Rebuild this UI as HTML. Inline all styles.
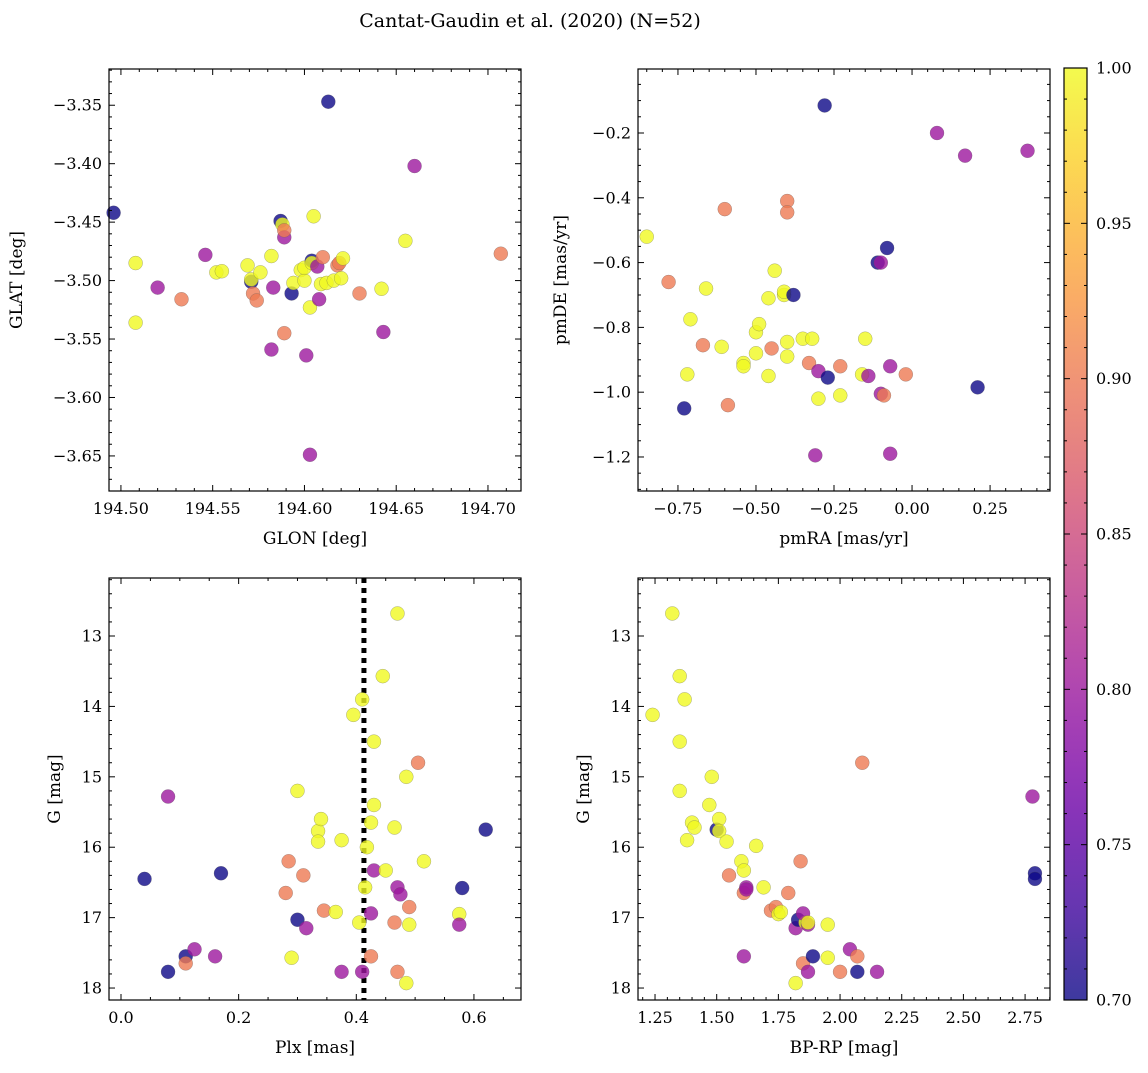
<!DOCTYPE html>
<html><head><meta charset="utf-8">
<style>
body{margin:0;background:#fff;}
svg text{font-family:"DejaVu Serif","Liberation Serif",serif;fill:#000;}
</style></head>
<body>
<svg id="fig" width="1148" height="1068" xmlns="http://www.w3.org/2000/svg">
<rect width="1148" height="1068" fill="#fff"/>
<text x="530" y="27" font-size="19" text-anchor="middle">Cantat-Gaudin et al. (2020) (N=52)</text>
</svg>
<script>
// ---- data ----
const glon=[194.496,194.508,194.508,194.520,194.533,194.546,194.552,194.555,194.569,194.571,194.571,194.572,194.574,194.576,194.582,194.582,194.583,194.587,194.588,194.589,194.589,194.589,194.593,194.594,194.598,194.600,194.600,194.601,194.603,194.603,194.604,194.604,194.605,194.607,194.608,194.609,194.610,194.612,194.613,194.616,194.618,194.619,194.620,194.621,194.630,194.642,194.643,194.655,194.660,194.707];
const glat=[-3.442,-3.485,-3.536,-3.506,-3.516,-3.478,-3.493,-3.492,-3.487,-3.501,-3.499,-3.511,-3.517,-3.493,-3.479,-3.559,-3.506,-3.449,-3.452,-3.463,-3.457,-3.545,-3.511,-3.502,-3.491,-3.500,-3.489,-3.564,-3.523,-3.649,-3.483,-3.485,-3.445,-3.488,-3.516,-3.503,-3.480,-3.502,-3.347,-3.500,-3.487,-3.485,-3.498,-3.481,-3.511,-3.507,-3.544,-3.466,-3.402,-3.477];
const probA=[0.7,1,1,0.8,0.9,0.8,1,1,1,0.7,1,0.9,0.9,1,1,0.8,0.8,0.7,1,0.8,0.9,0.9,0.7,1,1,1,1,0.8,1,0.8,0.7,1,1,0.8,0.8,1,0.9,1,0.7,1,0.9,0.9,1,1,0.9,1,0.8,1,0.8,0.9];
const pmra=[-0.85,-0.78,-0.73,-0.72,-0.71,-0.67,-0.66,-0.61,-0.60,-0.59,-0.54,-0.54,-0.50,-0.50,-0.49,-0.46,-0.46,-0.45,-0.44,-0.41,-0.41,-0.40,-0.40,-0.40,-0.40,-0.38,-0.35,-0.33,-0.32,-0.31,-0.30,-0.30,-0.28,-0.27,-0.23,-0.23,-0.16,-0.15,-0.14,-0.11,-0.10,-0.10,-0.09,-0.08,-0.07,-0.07,-0.02,0.08,0.17,0.21,0.37];
const pmde=[-0.52,-0.66,-1.05,-0.945,-0.775,-0.855,-0.68,-0.86,-0.435,-1.04,-0.91,-0.92,-0.815,-0.88,-0.79,-0.95,-0.71,-0.865,-0.625,-0.70,-0.69,-0.41,-0.445,-0.89,-0.845,-0.70,-0.835,-0.91,-0.835,-1.195,-1.02,-0.935,-0.115,-0.955,-1.01,-0.92,-0.945,-0.835,-0.95,-0.60,-0.60,-1.005,-1.01,-0.555,-0.92,-1.19,-0.945,-0.20,-0.27,-0.985,-0.255];
const probB=[1,0.9,0.7,1,1,0.9,1,1,0.9,0.9,1,1,1,1,1,1,1,0.9,1,1,1,0.9,0.9,1,1,0.7,1,0.9,1,0.8,1,0.8,0.7,0.7,1,0.9,1,1,0.8,0.7,0.8,0.8,0.9,0.7,0.8,0.8,0.9,0.8,0.8,0.7,0.8];
const plx=[0.04,0.08,0.08,0.11,0.11,0.125,0.16,0.17,0.28,0.285,0.29,0.30,0.30,0.31,0.315,0.335,0.335,0.34,0.345,0.365,0.375,0.375,0.395,0.405,0.41,0.41,0.415,0.418,0.425,0.425,0.425,0.43,0.43,0.43,0.445,0.45,0.47,0.465,0.465,0.47,0.47,0.475,0.485,0.485,0.49,0.49,0.505,0.515,0.575,0.575,0.58,0.62];
const gmagC=[16.45,17.77,15.28,17.55,17.65,17.45,17.55,16.37,16.65,16.2,17.57,17.03,15.2,16.4,17.15,15.77,15.92,15.6,16.9,16.92,15.9,17.77,14.12,17.07,17.77,13.9,16.57,16.0,16.94,17.55,15.65,14.5,15.4,16.33,13.57,16.33,12.68,15.72,17.07,16.57,17.77,16.67,15.0,17.93,16.85,17.1,14.8,16.2,16.95,17.1,16.58,15.75];
const probC=[0.7,0.7,0.8,0.7,0.9,0.8,0.8,0.7,0.9,0.9,1,0.7,1,0.9,0.8,1,1,1,0.9,1,1,0.8,1,1,0.8,1,1,1,0.8,0.9,1,1,1,0.8,1,1,1,1,0.9,0.8,0.9,0.8,1,1,0.9,1,0.9,1,1,0.8,0.7,0.7];
const bprp=[1.24,1.32,1.35,1.35,1.35,1.37,1.38,1.40,1.41,1.47,1.48,1.50,1.51,1.51,1.54,1.55,1.60,1.61,1.61,1.61,1.62,1.62,1.66,1.69,1.72,1.74,1.75,1.76,1.79,1.82,1.82,1.83,1.84,1.85,1.86,1.85,1.87,1.87,1.89,1.87,1.95,1.95,2.0,2.04,2.07,2.07,2.09,2.15,2.78,2.79,2.79];
const gmagD=[14.12,12.68,13.57,14.5,15.2,13.9,15.9,15.65,15.72,15.4,15.0,15.75,15.6,15.77,15.92,16.4,16.2,16.33,16.65,17.55,16.57,16.6,15.98,16.57,16.9,16.85,16.95,16.92,16.65,17.93,17.15,17.03,16.2,17.65,17.07,16.94,17.77,17.1,17.55,17.07,17.57,17.1,17.77,17.45,17.55,17.77,14.8,17.77,15.28,16.37,16.45];
const probD=[1,1,1,1,1,1,1,1,1,1,1,0.7,1,1,1,0.9,1,1,0.9,0.8,0.8,0.8,1,1,0.9,0.9,1,1,0.9,1,0.8,0.7,0.9,0.9,1,0.8,0.8,0.8,0.7,1,1,1,0.9,0.8,0.9,0.7,0.9,0.8,0.8,0.7,0.7];
const plxCut=0.413;
const cbTicks=[0.70,0.75,0.80,0.85,0.90,0.95,1.00];

const NS="http://www.w3.org/2000/svg";
const fig=document.getElementById('fig');
function mk(tag,attrs,parent){const e=document.createElementNS(NS,tag);for(const k in attrs)e.setAttribute(k,attrs[k]);(parent||fig).appendChild(e);return e;}
const stops=["#0d0887","#46039f","#7201a8","#9c179e","#bd3786","#d8576b","#ed7953","#fb9f3a","#fdca26","#f0f921"];
function hex(h){return [1,3,5].map(i=>parseInt(h.substr(i,2),16));}
function plasma(t){t=Math.max(0,Math.min(1,t));const f=t*(stops.length-1);const i=Math.min(stops.length-2,Math.floor(f));const u=f-i;const a=hex(stops[i]),b=hex(stops[i+1]);return "rgb("+a.map((v,k)=>Math.round(v+(b[k]-v)*u)).join(",")+")";}
function cmap(p){return plasma((p-0.7)/0.3);}

function panel(o){
  const g=mk('g',{});
  
  
  const sx=v=>o.x0+(v-o.xmin)/(o.xmax-o.xmin)*(o.x1-o.x0);
  const sy=o.inv?(v=>o.y0+(v-o.ymin)/(o.ymax-o.ymin)*(o.y1-o.y0)):(v=>o.y1-(v-o.ymin)/(o.ymax-o.ymin)*(o.y1-o.y0));
  if(o.vline!==undefined){const l=mk('line',{x1:sx(o.vline),x2:sx(o.vline),y1:o.y0,y2:o.y1,stroke:'#000','stroke-width':5,'stroke-dasharray':'5,5'},g);
    }
  for(let i=0;i<o.xs.length;i++){
    const c=mk('circle',{cx:sx(o.xs[i]),cy:sy(o.ys[i]),r:7,fill:cmap(o.ps[i]),'fill-opacity':0.8,stroke:'#555','stroke-width':0.4,'stroke-opacity':0.6},g);
    
    
  }
  mk('rect',{x:o.x0,y:o.y0,width:o.x1-o.x0,height:o.y1-o.y0,fill:'none',stroke:'#000','stroke-width':1.2},g);
  const eps=1e-9;
  for(let v=Math.ceil(o.xmin/o.xmn-eps)*o.xmn;v<=o.xmax+eps;v+=o.xmn){
    const x=sx(v);const isMaj=Math.abs(v/o.xmj-Math.round(v/o.xmj))<1e-6;const L=isMaj?6:3;
    mk('line',{x1:x,x2:x,y1:o.y1,y2:o.y1-L,stroke:'#000','stroke-width':1},g);
    mk('line',{x1:x,x2:x,y1:o.y0,y2:o.y0+L,stroke:'#000','stroke-width':1},g);
    if(isMaj){const t=mk('text',{x:x,y:o.y1+23,'font-size':16,'text-anchor':'middle'},g);t.textContent=fmt(v,o.xd);
      }
  }
  for(let v=Math.ceil(o.ymin/o.ymn-eps)*o.ymn;v<=o.ymax+eps;v+=o.ymn){
    const y=sy(v);const isMaj=Math.abs(v/o.ymj-Math.round(v/o.ymj))<1e-6;const L=isMaj?6:3;
    mk('line',{x1:o.x0,x2:o.x0+L,y1:y,y2:y,stroke:'#000','stroke-width':1},g);
    mk('line',{x1:o.x1,x2:o.x1-L,y1:y,y2:y,stroke:'#000','stroke-width':1},g);
    if(isMaj){const t=mk('text',{x:o.x0-7,y:y+5.5,'font-size':16,'text-anchor':'end'},g);t.textContent=fmt(v,o.yd);
      }
  }
  const xl=mk('text',{x:(o.x0+o.x1)/2,y:o.y1+53,'font-size':17,'text-anchor':'middle'},g);xl.textContent=o.xlab;
  
  const yx=o.ylx,yy=(o.y0+o.y1)/2;
  const yl=mk('text',{x:yx,y:yy,'font-size':17,'text-anchor':'middle',transform:`rotate(-90 ${yx} ${yy})`},g);yl.textContent=o.ylab;
  
}
function fmt(v,d){let s=Math.abs(v)<1e-9?(0).toFixed(d):v.toFixed(d);return s.replace('-','\u2212');}

panel({name:'glon-glat-panel',x0:109,x1:521,y0:69,y1:491,xmin:194.4935,xmax:194.718,ymin:-3.680,ymax:-3.319,xmj:0.05,xmn:0.01,ymj:0.05,ymn:0.01,xd:2,yd:2,xs:glon,ys:glat,ps:probA,xlab:'GLON [deg]',ylab:'GLAT [deg]',ylx:22});
panel({name:'proper-motion-panel',x0:638,x1:1050,y0:69,y1:491,xmin:-0.878,xmax:0.442,ymin:-1.305,ymax:-0.0025,xmj:0.25,xmn:0.05,ymj:0.2,ymn:0.05,xd:2,yd:1,xs:pmra,ys:pmde,ps:probB,xlab:'pmRA [mas/yr]',ylab:'pmDE [mas/yr]',ylx:566});
panel({name:'parallax-mag-panel',x0:109,x1:521,y0:578,y1:1000,xmin:-0.0204,xmax:0.680,ymin:12.176,ymax:18.17,inv:true,xmj:0.2,xmn:0.05,ymj:1,ymn:0.2,xd:1,yd:0,xs:plx,ys:gmagC,ps:probC,xlab:'Plx [mas]',ylab:'G [mag]',ylx:60,vline:plxCut});
panel({name:'cmd-panel',x0:638,x1:1050,y0:578,y1:1000,xmin:1.181,xmax:2.851,ymin:12.176,ymax:18.17,inv:true,xmj:0.25,xmn:0.05,ymj:1,ymn:0.2,xd:2,yd:0,xs:bprp,ys:gmagD,ps:probD,xlab:'BP-RP [mag]',ylab:'G [mag]',ylx:589});

const cb=mk('g',{});


const cx0=1064,cx1=1087,cy0=68,cy1=1000;
const defs=mk('defs',{},cb);const lg=mk('linearGradient',{id:'cbg',x1:0,y1:1,x2:0,y2:0},defs);
for(let i=0;i<=20;i++)mk('stop',{offset:i/20,'stop-color':plasma(i/20),'stop-opacity':0.8},lg);
mk('rect',{x:cx0,y:cy0,width:cx1-cx0,height:cy1-cy0,fill:'url(#cbg)',stroke:'#000','stroke-width':1.2},cb);
const cby=v=>cy1-(v-0.7)/0.3*(cy1-cy0);
for(let k=0;k<=30;k++){const v=0.7+k*0.01;const y=cby(v);const maj=k%5===0;
  mk('line',{x1:cx1,x2:cx1-(maj?6:3),y1:y,y2:y,stroke:'#000','stroke-width':1},cb);
  mk('line',{x1:cx0,x2:cx0+(maj?6:3),y1:y,y2:y,stroke:'#000','stroke-width':1},cb);}
cbTicks.forEach(v=>{const t=mk('text',{x:cx1+9,y:cby(v)+5.5,'font-size':16},cb);t.textContent=v.toFixed(2);
  });
</script>
</body></html>
